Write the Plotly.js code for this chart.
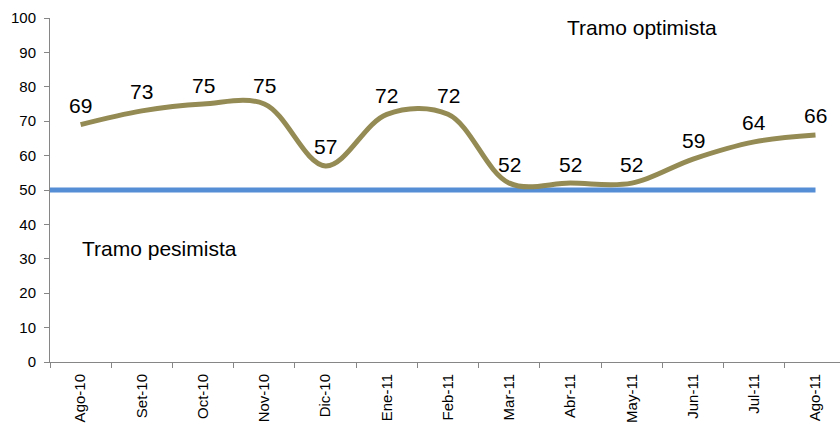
<!DOCTYPE html>
<html>
<head>
<meta charset="utf-8">
<script src="https://cdn.plot.ly/plotly-3.0.1.min.js"></script>
<style>
html,body{margin:0;padding:0;background:#fff;overflow:hidden;}
#chart{width:840px;height:423px;}
</style>
</head>
<body>
<div id="chart"></div>
<script>
const categories = ["Ago-10","Set-10","Oct-10","Nov-10","Dic-10","Ene-11","Feb-11","Mar-11","Abr-11","May-11","Jun-11","Jul-11","Ago-11"];
const values = [69,73,75,75,57,72,72,52,52,52,59,64,66];
const threshold = 50;
const yTicks = [0,10,20,30,40,50,60,70,80,90,100];
const zoneLabels = ["Tramo optimista","Tramo pesimista"];

const FONT = "Liberation Sans, Arial, sans-serif";

const trace = {
  x: categories,
  y: values,
  type: "scatter",
  mode: "lines",
  line: {color: "#948A54", width: 5, shape: "spline", smoothing: 1},
  hoverinfo: "skip",
  showlegend: false
};

const valueLabels = categories.map((c, i) => ({
  text: String(values[i]),
  xref: "x", yref: "y",
  x: c, y: values[i],
  showarrow: false,
  yshift: 19,
  xanchor: "center", yanchor: "middle",
  font: {family: FONT, size: 21, color: "#000"}
}));

const layout = {
  width: 840,
  height: 423,
  margin: {l: 50, r: 0, t: 17.5, b: 61},
  paper_bgcolor: "#fff",
  plot_bgcolor: "#fff",
  font: {family: FONT, size: 14, color: "#000"},
  showlegend: false,
  xaxis: {
    type: "category",
    range: [-0.5, categories.length - 0.6],
    tickson: "boundaries",
    ticks: "outside",
    ticklen: 5,
    tickcolor: "#868686",
    tickwidth: 1,
    tickangle: -90,
    ticklabelstandoff: 5,
    tickfont: {family: FONT, size: 15, color: "#000"},
    showline: true,
    linecolor: "#868686",
    linewidth: 1,
    showgrid: false,
    zeroline: false,
    fixedrange: true
  },
  yaxis: {
    range: [0, 100],
    tickvals: yTicks,
    ticktext: yTicks.map(String),
    ticks: "outside",
    ticklen: 5,
    tickcolor: "#868686",
    tickwidth: 1,
    ticklabelstandoff: 5,
    tickfont: {family: FONT, size: 15, color: "#000"},
    showline: true,
    linecolor: "#868686",
    linewidth: 1,
    showgrid: false,
    zeroline: false,
    fixedrange: true
  },
  shapes: [{
    type: "line",
    xref: "x", yref: "y",
    x0: -0.5, x1: categories.length - 1,
    y0: threshold, y1: threshold,
    line: {color: "#558ED5", width: 5},
    layer: "below"
  }],
  annotations: [
    {text: zoneLabels[0], xref: "x", yref: "y", x: 9.17, y: 97.2, showarrow: false,
     font: {family: FONT, size: 21, color: "#000"}, xanchor: "center", yanchor: "middle"},
    {text: zoneLabels[1], xref: "x", yref: "y", x: 1.28, y: 33.1, showarrow: false,
     font: {family: FONT, size: 21, color: "#000"}, xanchor: "center", yanchor: "middle"}
  ].concat(valueLabels)
};

Plotly.newPlot("chart", [trace], layout, {displayModeBar: false, staticPlot: true});
</script>
</body>
</html>
